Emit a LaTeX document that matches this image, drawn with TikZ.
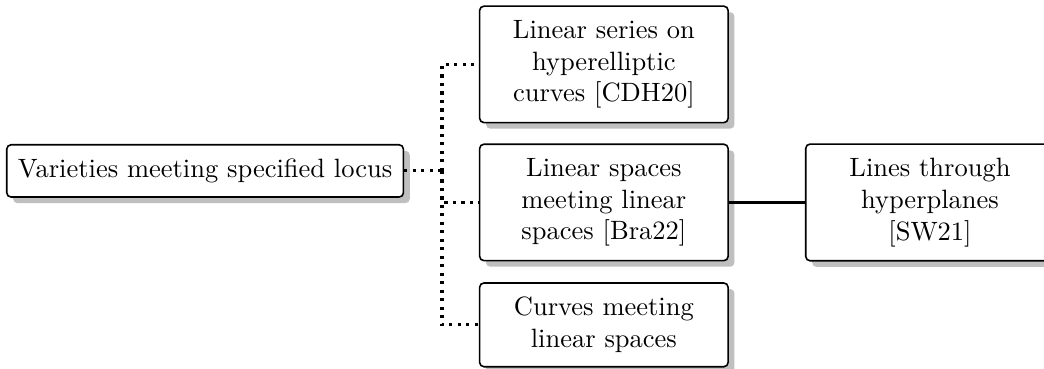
\documentclass[tikz,border=0pt]{standalone}
\usetikzlibrary{shadows}
\tikzset{
  box/.style={draw, line width=0.6pt, rounded corners=1.6pt, fill=white,
    align=center, inner xsep=4.2pt, inner ysep=5.3pt,
    drop shadow={shadow xshift=2.4pt, shadow yshift=-2.3pt, fill=black!25, opacity=1}},
  wide/.style={box, text width=3cm},
  fork/.style={very thick, dotted},
  link/.style={very thick}
}
\begin{document}
\begin{tikzpicture}[x=1pt, y=1pt]
  \useasboundingbox (0,0) rectangle (394,139.2);
  % root and its three refinements
  \node[box] (root) at (77.4,74.7) {Varieties meeting specified locus};
  \node[wide] (hyp) at (227.9,114.9) {Linear series on\\hyperelliptic\\curves [CDH20]};
  \node[wide] (lin) at (227.9,62.8) {Linear spaces\\meeting linear\\spaces [Bra22]};
  \node[wide] (cur) at (227.9,16.6) {Curves meeting\\linear spaces};
  \node[wide, anchor=west] (sw) at (303.8,62.8) {Lines through\\hyperplanes\\{[SW21]}};
  % forked dotted edges
  \coordinate (fk) at (166.8,0 |- root.east);
  \draw[fork] (root.east) -- (fk);
  \draw[fork] (fk) |- (hyp.west);
  \draw[fork] (fk) |- (lin.west);
  \draw[fork] (fk) |- (cur.west);
  % solid edge
  \draw[link] (lin.east) -- (sw.west);
\end{tikzpicture}
\end{document}
